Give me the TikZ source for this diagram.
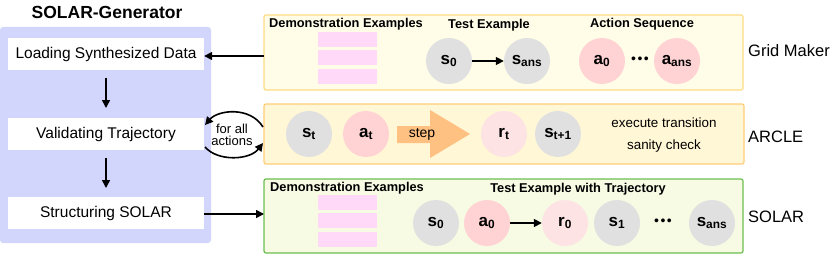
\documentclass[tikz,border=0pt]{standalone}
\usepackage{fontspec}
\setmainfont{Liberation Sans}
\usetikzlibrary{arrows.meta}
\definecolor{panel}{HTML}{D3D6FC}
\definecolor{gmfill}{HTML}{FFFDE8}
\definecolor{gmdraw}{HTML}{FFDB85}
\definecolor{arfill}{HTML}{FFF7D6}
\definecolor{ardraw}{HTML}{FFCC7A}
\definecolor{sofill}{HTML}{F7FBE3}
\definecolor{sodraw}{HTML}{6CBF4E}
\definecolor{demo}{HTML}{FFD9F7}
\definecolor{sgray}{HTML}{E0E0E0}
\definecolor{apink}{HTML}{FFD3D3}
\definecolor{rpink}{HTML}{FDE3E3}
\definecolor{stepc}{HTML}{FFC182}
\tikzset{
  x=1pt,y=-1pt,
  wbox/.style={fill=white,minimum width=196pt,minimum height=32pt,inner sep=0pt,font=\fontsize{15.5}{17}\selectfont},
  stbox/.style={draw=#1,line width=1.2pt,rounded corners=2pt},
  circ/.style={circle,fill=#1,minimum size=46pt,inner sep=0pt,font=\fontsize{17}{18}\selectfont\bfseries},
  demobar/.style={fill=demo,minimum width=59pt,minimum height=15pt,inner sep=0pt},
  hdr/.style={font=\fontsize{12.8}{14}\selectfont\bfseries,inner sep=0pt},
  side/.style={font=\fontsize{16.5}{17}\selectfont,anchor=west,inner sep=0pt},
  arr/.style={-{Triangle[length=8pt,width=8pt]},line width=1.6pt},
  dots/.style={font=\fontsize{14}{14}\selectfont,inner sep=0pt},
}
\newcommand{\mydots}{\textbullet\kern1.5pt\textbullet\kern1.5pt\textbullet}
\begin{document}
\begin{tikzpicture}
\useasboundingbox (0,0) rectangle (830,254);
% left panel
\fill[panel,rounded corners=3pt] (0,27) rectangle (211,243);
\node[font=\fontsize{17.5}{18}\selectfont\bfseries] (title) at (107,12) {SOLAR-Generator};
\node[wbox] (load) at (106,54) {Loading Synthesized Data};
\node[wbox] (valid) at (106,134) {Validating Trajectory};
\node[wbox] (struct) at (106,213) {Structuring SOLAR};
\draw[arr] (106,78) -- (106,108);
\draw[arr] (106,158) -- (106,188);

% Grid maker box
\draw[stbox=gmdraw,fill=gmfill] (264,15) rectangle (743,90);
\node[hdr] (gdemo) at (346,24) {Demonstration Examples};
\node[demobar] (gd1) at (347.5,39.5) {};
\node[demobar] (gd2) at (347.5,57.5) {};
\node[demobar] (gd3) at (347.5,76.5) {};
\node[hdr] (gtest) at (489,25) {Test Example};
\node[circ=sgray] (gs0) at (449,61) {s\textsubscript{0}};
\node[circ=sgray] (gsans) at (527,61) {s\textsubscript{ans}};
\draw[arr] (gs0) -- (gsans);
\node[hdr] (gact) at (642,24) {Action Sequence};
\node[circ=apink] (ga0) at (602,61) {a\textsubscript{0}};
\node[circ=apink] (gaans) at (677,61) {a\textsubscript{ans}};
\node[dots] (gdots) at (640,60) {\mydots};
\node[side] (gm) at (748,51) {Grid Maker};
\coordinate (gmw) at (264,56);
\draw[arr] (gmw) -- (load.east |- gmw);

% ARCLE box
\draw[stbox=ardraw,fill=arfill] (264,104) rectangle (744,164);
\node[circ=sgray] (st) at (309,134) {s\textsubscript{t}};
\node[circ=apink] (at) at (366,134) {a\textsubscript{t}};
\fill[stepc] (397,126)--(430,126)--(430,110)--(470,134)--(430,158)--(430,143)--(397,143)--cycle;
\node[font=\fontsize{14}{15}\selectfont] (step) at (422,134) {step};
\node[circ=rpink] (rt) at (504,134) {r\textsubscript{t}};
\node[circ=sgray] (st1) at (558,134) {s\textsubscript{t+1}};
\node[font=\fontsize{13.4}{14}\selectfont] (exec) at (664,123) {execute transition};
\node[font=\fontsize{13.4}{14}\selectfont] (sanity) at (664,146) {sanity check};
\node[side] (arcle) at (748,137) {ARCLE};
\node[font=\fontsize{13}{13}\selectfont,align=center,inner sep=0pt] (forall) at (232,135) {for all\\[-1pt]actions};
\coordinate (ar1) at (263,127);
\coordinate (ar2) at (263,143);
\draw[arr] (ar1) .. controls (250,106) and (218,110) .. (205,125);
\draw[arr] (205,147) .. controls (218,162) and (250,160) .. (ar2);

% SOLAR box
\draw[stbox=sodraw,fill=sofill] (264,179) rectangle (743,253);
\node[hdr] (sdemo) at (347,188) {Demonstration Examples};
\node[demobar] (sd1) at (347.5,202.5) {};
\node[demobar] (sd2) at (347.5,220.5) {};
\node[demobar] (sd3) at (347.5,239.5) {};
\node[hdr] (stest) at (578,189) {Test Example with Trajectory};
\node[circ=sgray] (ss0) at (436,223) {s\textsubscript{0}};
\node[circ=apink] (sa0) at (487,223) {a\textsubscript{0}};
\node[circ=rpink] (sr0) at (565,223) {r\textsubscript{0}};
\node[circ=sgray] (ss1) at (617,223) {s\textsubscript{1}};
\node[dots] (sdots) at (663,222) {\mydots};
\node[circ=sgray] (ssans) at (712,223) {s\textsubscript{ans}};
\draw[arr] (sa0) -- (sr0);
\node[side] (solar) at (748,217) {SOLAR};
\coordinate (sow) at (264,214);
\draw[arr] (struct.east |- sow) -- (sow);
\end{tikzpicture}
\end{document}
